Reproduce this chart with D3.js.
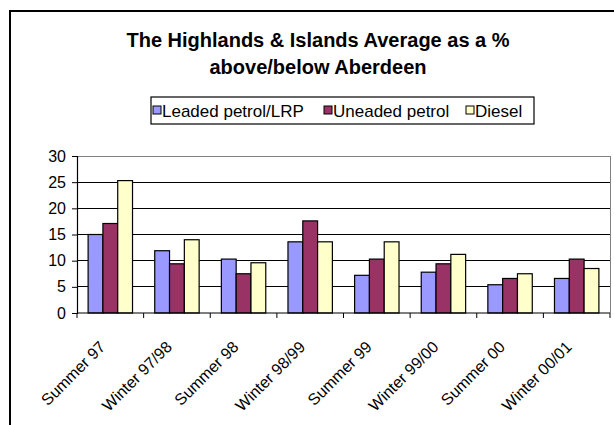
<!DOCTYPE html>
<html>
<head>
<meta charset="utf-8">
<script src="https://cdn.jsdelivr.net/npm/d3@7"></script>
<style>
  html, body { margin: 0; padding: 0; background: #fff; }
  svg { display: block; }
  text { font-family: "Liberation Sans", Arial, sans-serif; fill: #000; }
</style>
</head>
<body>
<svg id="chart" width="614" height="425"></svg>
<script>
// Periods shown along the x axis
const categories = ["Summer 97", "Winter 97/98", "Summer 98", "Winter 98/99",
                    "Summer 99", "Winter 99/00", "Summer 00", "Winter 00/01"];

// Highlands & Islands average, % above/below Aberdeen
const leadedValues   = [15.0, 11.9, 10.3, 13.6, 7.2, 7.8, 5.4, 6.6];
const unleadedValues = [17.1, 9.4, 7.5, 17.6, 10.3, 9.4, 6.6, 10.3];
const dieselValues   = [25.3, 14.0, 9.6, 13.6, 13.6, 11.2, 7.5, 8.5];

const seriesNames  = ["Leaded petrol/LRP", "Uneaded petrol", "Diesel"];
const seriesColors = ["#9999FF", "#993366", "#FFFFCC"];
const yTicks = [0, 5, 10, 15, 20, 25, 30];

const titleLines = ["The Highlands & Islands Average as a %", "above/below Aberdeen"];

const series = [leadedValues, unleadedValues, dieselValues];

const svg = d3.select("#chart");

// Chart frame
svg.append("rect")
  .attr("x", 10).attr("y", 11).attr("width", 640).attr("height", 460)
  .attr("fill", "#fff").attr("stroke", "#000").attr("stroke-width", 2);

// Plot area
const plot = { left: 77, right: 610, top: 156, bottom: 313 };

const x = d3.scaleBand().domain(categories).range([plot.left, plot.right]).padding(0);
const xSub = d3.scaleBand().domain(d3.range(series.length))
  .range([0, x.bandwidth()]).paddingInner(0).paddingOuter(0.75);
const y = d3.scaleLinear().domain([0, 30]).range([plot.bottom, plot.top]);

// Horizontal gridlines
svg.append("g").selectAll("line")
  .data(yTicks.filter(t => t > 0 && t < 30))
  .join("line")
  .attr("x1", plot.left).attr("x2", plot.right)
  .attr("y1", d => y(d)).attr("y2", d => y(d))
  .attr("stroke", "#000").attr("stroke-width", 1)
  .attr("shape-rendering", "crispEdges");

// Plot area border (top and right)
svg.append("path")
  .attr("d", `M${plot.left},${y(30)}H${plot.right}V${plot.bottom}`)
  .attr("fill", "none").attr("stroke", "#808080").attr("stroke-width", 1)
  .attr("shape-rendering", "crispEdges");

// Bars
const groups = svg.append("g").selectAll("g")
  .data(categories)
  .join("g")
  .attr("transform", d => `translate(${x(d)},0)`);

groups.selectAll("rect")
  .data((c, i) => series.map((s, k) => ({ k, v: s[i] })))
  .join("rect")
  .attr("x", d => xSub(d.k))
  .attr("width", xSub.bandwidth())
  .attr("y", d => y(d.v))
  .attr("height", d => y(0) - y(d.v))
  .attr("fill", d => seriesColors[d.k])
  .attr("stroke", "#000").attr("stroke-width", 1.2);

// Y axis
const yAxis = svg.append("g")
  .attr("transform", `translate(${plot.left},0)`)
  .call(d3.axisLeft(y).tickValues(yTicks).tickSize(5).tickPadding(6).tickFormat(d3.format("d")));
yAxis.selectAll("text").style("font-size", "16px").attr("fill", "#000");
yAxis.selectAll("line").attr("stroke", "#000");
yAxis.select(".domain").attr("stroke", "#000").attr("stroke-width", 1.2);

// X axis line with ticks at category boundaries
const xAxis = svg.append("g");
xAxis.append("line")
  .attr("x1", plot.left).attr("x2", plot.right)
  .attr("y1", y(0)).attr("y2", y(0))
  .attr("stroke", "#000").attr("stroke-width", 1.2);
const boundaries = categories.map(c => x(c)).concat([plot.right]);
xAxis.selectAll("line.tick")
  .data(boundaries)
  .join("line").attr("class", "tick")
  .attr("x1", d => d).attr("x2", d => d)
  .attr("y1", y(0)).attr("y2", y(0) + 5)
  .attr("stroke", "#000").attr("stroke-width", 1);

// Rotated category labels
xAxis.selectAll("text")
  .data(categories)
  .join("text")
  .attr("text-anchor", "end")
  .style("font-size", "16px")
  .attr("transform", d => `translate(${x(d) + x.bandwidth() / 2 - 4},${y(0) + 35}) rotate(-45)`)
  .text(d => d);

// Title
svg.append("text")
  .attr("x", 318).attr("y", 47)
  .attr("text-anchor", "middle")
  .style("font-size", "20px").style("font-weight", "bold")
  .selectAll("tspan")
  .data(titleLines)
  .join("tspan")
  .attr("x", 318)
  .attr("dy", (d, i) => i === 0 ? 0 : 27)
  .text(d => d);

// Legend
const legend = svg.append("g");
legend.append("rect")
  .attr("x", 151).attr("y", 97).attr("width", 383).attr("height", 27)
  .attr("fill", "#fff").attr("stroke", "#000").attr("stroke-width", 1.2);

const legendX = [153, 324, 466];
const items = legend.selectAll("g.item")
  .data(seriesNames)
  .join("g").attr("class", "item")
  .attr("transform", (d, i) => `translate(${legendX[i]},0)`);
items.append("rect")
  .attr("x", 0).attr("y", 106).attr("width", 8).attr("height", 8)
  .attr("fill", (d, i) => seriesColors[i])
  .attr("stroke", "#000").attr("stroke-width", 1);
items.append("text")
  .attr("x", 9).attr("y", 117)
  .style("font-size", "17px")
  .text(d => d);
</script>
</body>
</html>
